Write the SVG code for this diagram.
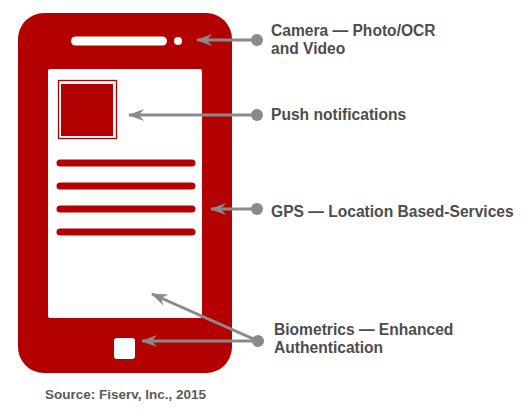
<svg xmlns="http://www.w3.org/2000/svg" width="530" height="411" viewBox="0 0 530 411">
<style>
.red{fill:#b30000}
.w{fill:#fff}
.ln{stroke:#b30000;stroke-width:7;stroke-linecap:round;fill:none}
.con{stroke:#8a8a8a;stroke-width:3;fill:none}
.dot{fill:#8a8a8a}
.lbl{font-family:"Liberation Sans",Arial,sans-serif;font-size:15.6px;font-weight:bold;fill:#4d4d4d}
.src{font-family:"Liberation Sans",Arial,sans-serif;font-size:13.5px;font-weight:bold;fill:#5a5a5a}
</style>
<defs>
<marker id="ah" viewBox="0 0 16 12" refX="15" refY="6" markerWidth="16" markerHeight="12" markerUnits="userSpaceOnUse" orient="auto">
<path d="M16,6 L0,0 L5,6 L0,12 Z" fill="#8a8a8a"/>
</marker>
</defs>
<g id="phone">
<rect class="red" x="18" y="13" width="214" height="360" rx="26"/>
<rect class="w" x="71" y="36.5" width="96" height="9" rx="4.5"/>
<circle class="w" cx="178" cy="41" r="4"/>
<rect class="w" x="48" y="69" width="154" height="249" rx="2"/>
<rect x="58.5" y="80.5" width="58" height="58" fill="none" stroke="#b30000" stroke-width="1.3"/>
<rect class="red" x="61" y="84" width="52" height="52"/>
<line class="ln" x1="60" y1="163" x2="192" y2="163"/>
<line class="ln" x1="60" y1="186" x2="192" y2="186"/>
<line class="ln" x1="60" y1="209" x2="192" y2="209"/>
<line class="ln" x1="60" y1="232" x2="192" y2="232"/>
<rect class="w" x="114" y="338" width="21" height="21" rx="3"/>
</g>
<g id="connectors">
<line class="con" x1="257" y1="40" x2="197" y2="40" marker-end="url(#ah)"/>
<circle class="dot" cx="257" cy="40" r="6"/>
<line class="con" x1="257" y1="115" x2="129" y2="115" marker-end="url(#ah)"/>
<circle class="dot" cx="257" cy="115" r="6"/>
<line class="con" x1="257" y1="209" x2="211" y2="209" marker-end="url(#ah)"/>
<circle class="dot" cx="257" cy="209" r="6"/>
<line class="con" x1="258" y1="341" x2="142" y2="341" marker-end="url(#ah)"/>
<line class="con" x1="258" y1="341" x2="152" y2="294" marker-end="url(#ah)"/>
<circle class="dot" cx="258" cy="341" r="6"/>
</g>
<g id="label-camera">
<text class="lbl" x="271" y="36">Camera — Photo/OCR</text>
<text class="lbl" x="271" y="54">and Video</text>
</g>
<g id="label-push"><text class="lbl" x="271" y="120">Push notifications</text></g>
<g id="label-gps"><text class="lbl" x="271" y="217">GPS — Location Based-Services</text></g>
<g id="label-bio">
<text class="lbl" x="274" y="335">Biometrics — Enhanced</text>
<text class="lbl" x="274" y="353">Authentication</text>
</g>
<text class="src" x="45" y="399">Source: Fiserv, Inc., 2015</text>
</svg>
